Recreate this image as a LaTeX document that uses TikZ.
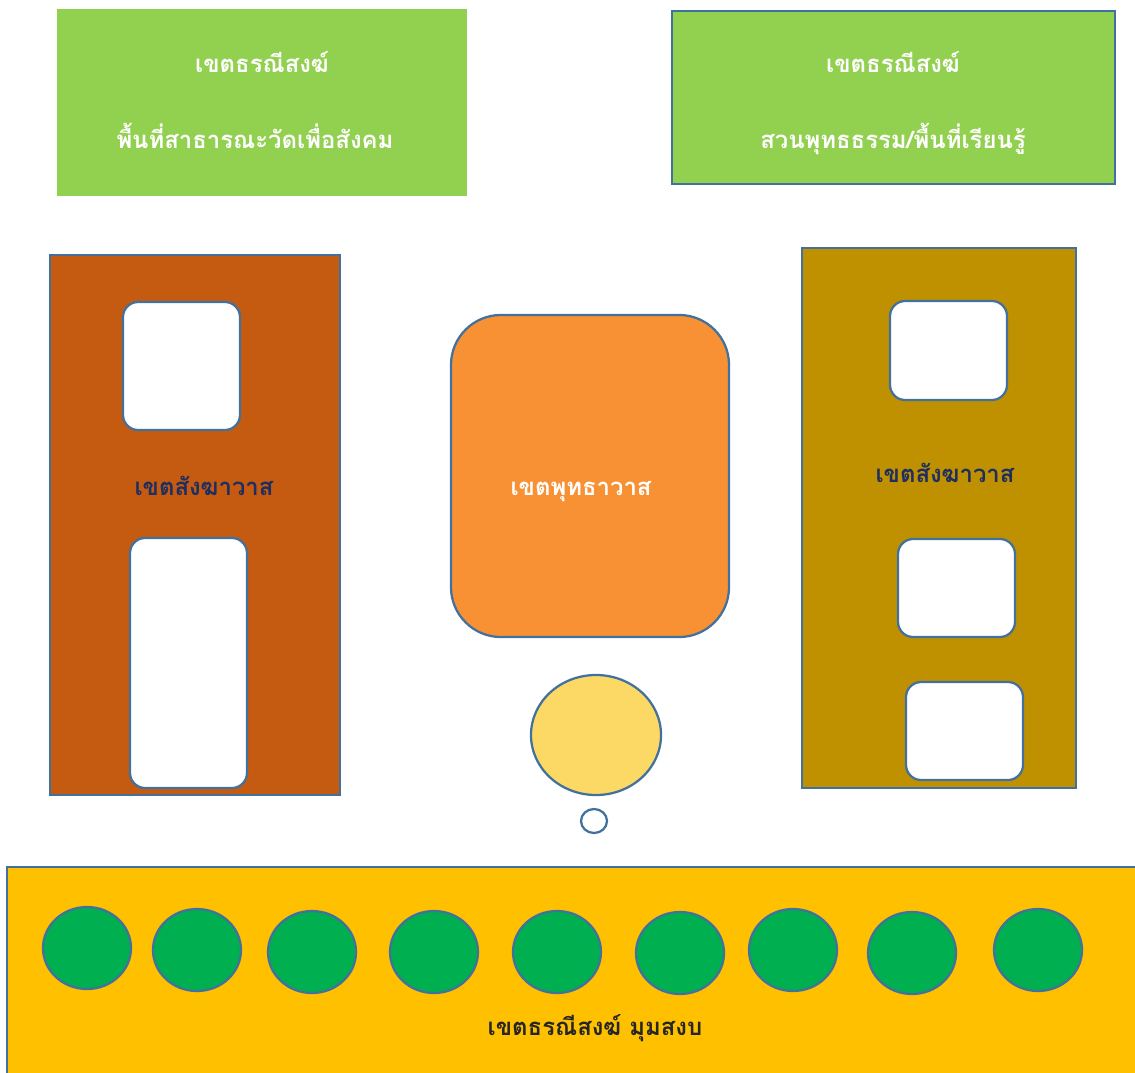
\documentclass[tikz,border=0pt]{standalone}
\usepackage{fontspec}
\newfontfamily\thaifont[Script=Thai]{Loma}
\usepackage{xcolor}
\definecolor{zoneedge}{RGB}{65, 113, 156}
\definecolor{zonegreen}{RGB}{146, 208, 80}
\definecolor{zonebrown}{RGB}{197, 90, 17}
\definecolor{zoneorange}{RGB}{248, 145, 51}
\definecolor{zoneolive}{RGB}{191, 144, 0}
\definecolor{zoneyellow}{RGB}{255, 192, 0}
\definecolor{poolyellow}{RGB}{252, 216, 101}
\definecolor{treegreen}{RGB}{0, 176, 80}
\definecolor{labelnavy}{RGB}{31, 46, 96}
\usetikzlibrary{shapes.geometric,positioning}
\tikzset{
    zone/.style={draw=zoneedge, line width=1.6pt, rectangle, inner sep=0pt},
    room/.style={draw=zoneedge, line width=1.6pt, rectangle, rounded corners=0.38cm, fill=white, inner sep=0pt, minimum width=2.925cm},
    tree/.style={draw=zoneedge, line width=1.6pt, ellipse, fill=treegreen, inner sep=0pt, minimum width=2.2cm, minimum height=2.05cm},
    zonetext/.style={font=\thaifont\bfseries\fontsize{17}{20}\selectfont, inner sep=0pt}
}
\begin{document}
\begin{tikzpicture}[x=0.025cm, y=-0.025cm]
    \useasboundingbox (0, 0) rectangle (1135, 1072);
    
    % Top green zones
    \node[zone, draw=zonegreen, fill=zonegreen, minimum width=10.2cm, minimum height=4.625cm] (publiczone) at (262, 102.5) {};
    \node[zonetext, text=white] (publictitle) at (262, 62) {เขตธรณีสงฆ์};
    \node[zonetext, text=white] (publicsub) at (255, 136) {พื้นที่สาธารณะวัดเพื่อสังคม};
    
    \node[zone, fill=zonegreen, minimum width=11.075cm, minimum height=4.325cm] (gardenzone) at (893.5, 97.5) {};
    \node[zonetext, text=white] (gardentitle) at (893, 62) {เขตธรณีสงฆ์};
    \node[zonetext, text=white] (gardensub) at (893, 139) {สวนพุทธธรรม/พื้นที่เรียนรู้};
    
    % Left monks' quarters
    \node[zone, fill=zonebrown, minimum width=7.25cm, minimum height=13.5cm] (leftzone) at (195, 525) {};
    \node[room, minimum height=3.2cm] (leftroomA) at (181.5, 366) {};
    \node[room, minimum height=6.25cm] (leftroomB) at (188.5, 663) {};
    \node[zonetext, text=labelnavy] (lefttitle) at (204, 486) {เขตสังฆาวาส};
    
    % Buddha area
    \node[zone, rounded corners=1.25cm, fill=zoneorange, minimum width=6.95cm, minimum height=8.05cm] (buddhazone) at (590, 476) {};
    \node[zonetext, text=white] (buddhatitle) at (581, 492) {เขตพุทธาวาส};
    \node[zone, ellipse, fill=poolyellow, minimum width=3.25cm, minimum height=3cm] (pool) at (596, 735) {};
    \node[zone, ellipse, fill=white, minimum width=0.65cm, minimum height=0.6cm] (well) at (594, 821) {};
    
    % Right monks' quarters
    \node[zone, fill=zoneolive, minimum width=6.85cm, minimum height=13.5cm] (rightzone) at (939, 518) {};
    \node[room, minimum height=2.475cm] (rightroomA) at (948.5, 350.5) {};
    \node[room, minimum height=2.45cm] (rightroomB) at (956.5, 588) {};
    \node[room, minimum height=2.45cm] (rightroomC) at (964.5, 731) {};
    \node[zonetext, text=labelnavy] (righttitle) at (945, 473) {เขตสังฆาวาส};
    
    % Quiet corner
    \node[zone, fill=zoneyellow, minimum width=28.4cm, minimum height=5.4cm] (quietzone) at (575, 975) {};
    \foreach \tx/\ty [count=\i] in {87/948, 197/950, 312/952, 434/952, 557/952, 680/953, 793/950, 912/953, 1038/950}
        \node[tree] (tree\i) at (\tx, \ty) {};
    \node[zonetext, text=black!85] (quiettitle) at (595, 1028) {เขตธรณีสงฆ์ มุมสงบ};
\end{tikzpicture}
\end{document}
